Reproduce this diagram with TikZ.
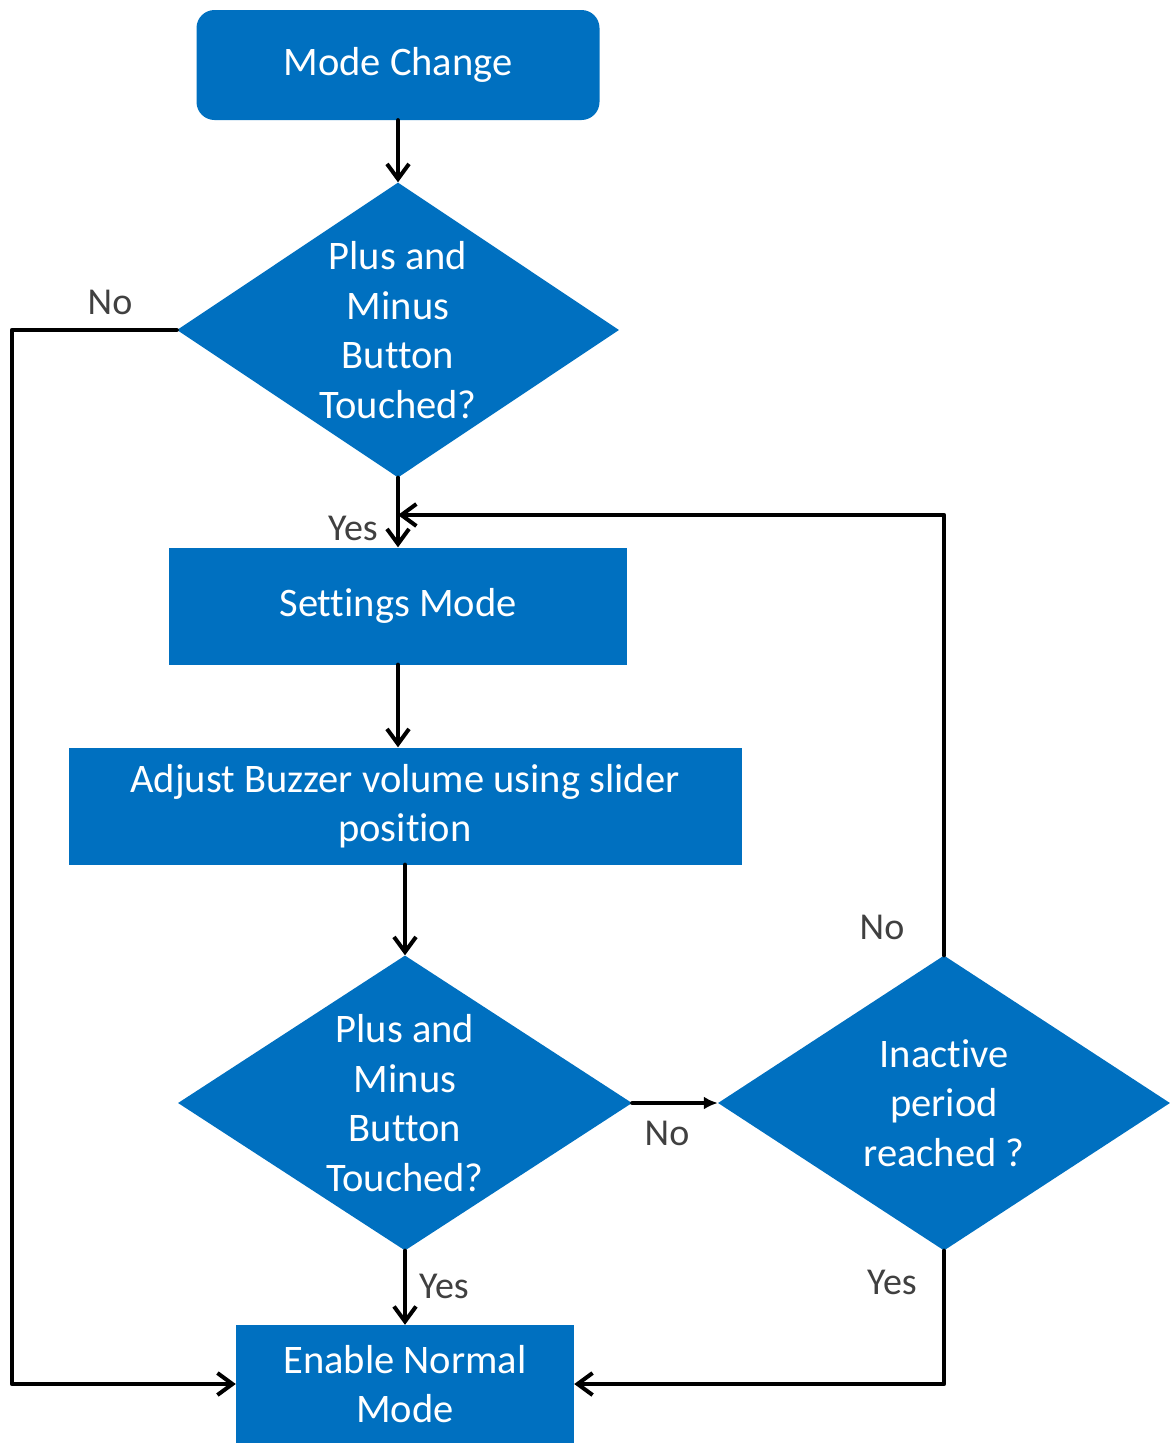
\documentclass[tikz,border=0pt]{standalone}
\usepackage{fontspec}
\setmainfont{Carlito}[Ligatures=CommonOff]
\usetikzlibrary{shapes.geometric,arrows.meta}
\definecolor{boxblue}{RGB}{0,112,192}
\definecolor{lblgray}{RGB}{64,64,64}
\begin{document}
\begin{tikzpicture}[x=1pt,y=-1pt,line cap=round,line join=round,
	>={Straight Barb[length=15pt,width=22pt,line width=4pt]},
	box/.style={fill=boxblue,text=white,inner sep=0pt,align=center,font=\fontsize{40.5}{49.5}\selectfont},
	dec/.style={diamond,fill=boxblue,inner sep=0pt},
	txt/.style={text=white,align=center,font=\fontsize{40.5}{49.5}\selectfont},
	lbl/.style={text=lblgray,font=\fontsize{38}{44}\selectfont},
	line/.style={line width=4.2pt}]
	\useasboundingbox (0,0) rectangle (1173,1443);
	% boxes
	\node[box,rounded corners=18pt,minimum width=403pt,minimum height=110pt] (mc) at (398,65) {Mode Change};
	\node[dec,minimum width=442pt,minimum height=295pt] (d1) at (398,330) {};
	\node[txt] at (d1) {Plus and\\Minus\\Button\\Touched?};
	\node[box,minimum width=458pt,minimum height=117pt] (ss) at (398,606) {Settings Mode};
	\node[box,minimum width=673pt,minimum height=117pt] (adj) at (405,806) {Adjust Buzzer volume using slider\\position};
	\node[dec,minimum width=454pt,minimum height=295pt] (d2) at (405,1103) {};
	\node[txt] at (d2) {Plus and\\Minus\\Button\\Touched?};
	\node[dec,minimum width=452pt,minimum height=295pt] (d3) at (944,1103) {};
	\node[txt] at (d3) {Inactive\\period\\reached ?};
	\node[box,minimum width=338pt,minimum height=118pt] (en) at (405,1384) {Enable Normal\\Mode};
	% connectors
	\coordinate (jn) at (398,515);
	\coordinate (lft) at (12,330);
	\draw[line,->] (mc) -- (d1);
	\draw[line,->] (d1.south) -- (ss.north);
	\draw[line,->] (d1.west) -- (lft) |- (en.west);
	\draw[line,->] (d3.north) |- (jn);
	\draw[line,->] (ss.south) -- (ss.south |- adj.north);
	\draw[line,->] (adj.south) -- (d2.north);
	\draw[line,-{Latex[length=14pt,width=13pt]}] (d2.east) -- (d3.west);
	\draw[line,->] (d2.south) -- (en.north);
	\draw[line,->] (d3.south) |- (en.east);
	% labels
	\node[lbl] at (110,302) {No};
	\node[lbl] at (353,528) {Yes};
	\node[lbl] at (882,927) {No};
	\node[lbl] at (667,1133) {No};
	\node[lbl] at (444,1286) {Yes};
	\node[lbl] at (892,1282) {Yes};
\end{tikzpicture}
\end{document}
